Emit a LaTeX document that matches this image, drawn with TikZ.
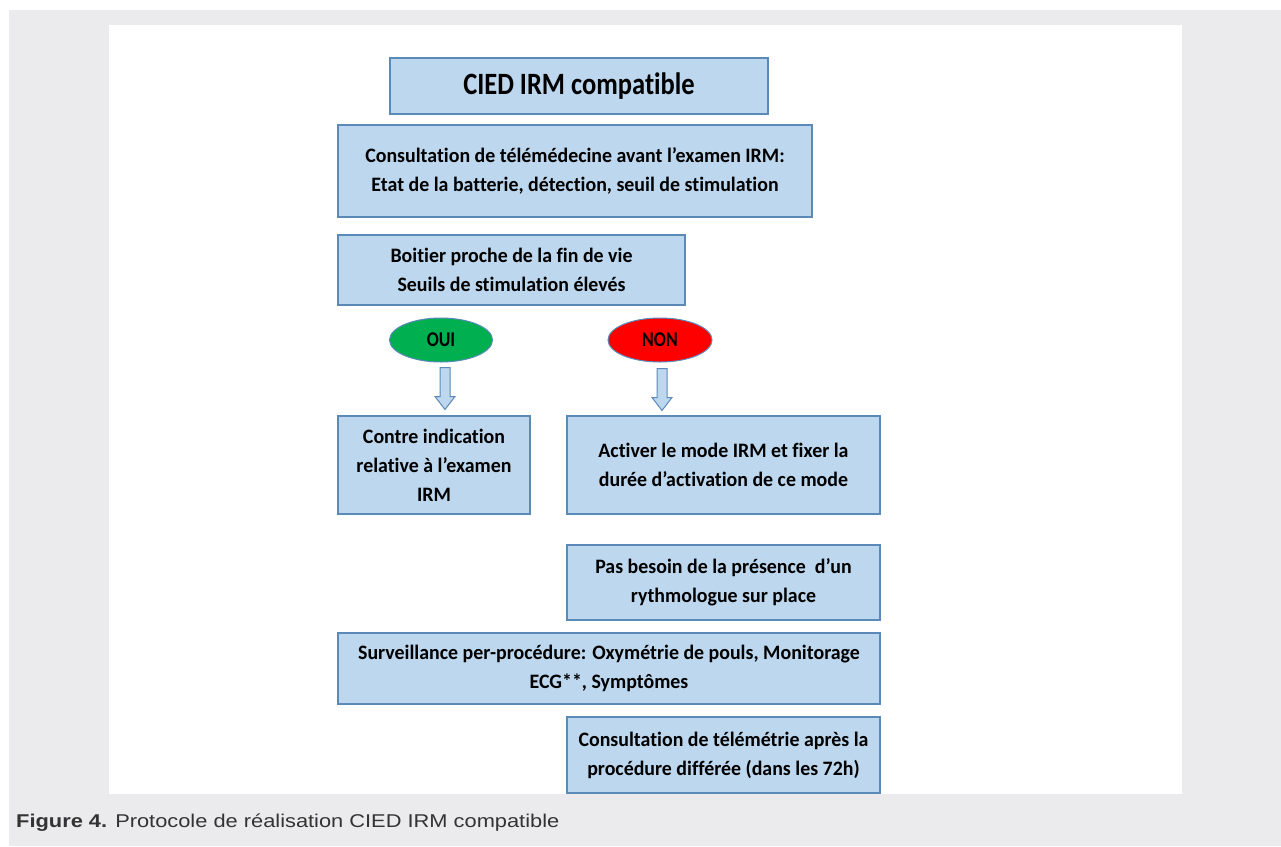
\documentclass[tikz,border=0pt]{standalone}
\usepackage{fontspec}
\setmainfont{Carlito}[Ligatures=NoCommon]
\newfontfamily\boxfont{Carlito}[Ligatures=NoCommon, FakeStretch=0.97]
\newfontfamily\titlefont{Carlito}[Ligatures=NoCommon, FakeStretch=0.855]
\newfontfamily\choicefont{Carlito}[Ligatures=NoCommon, FakeStretch=0.85]
\newfontfamily\capfont{Liberation Sans}[FakeStretch=1.18]
\usetikzlibrary{calc,shapes.geometric}
\definecolor{bgray}{HTML}{EBEBED}
\definecolor{boxfill}{HTML}{BDD7EE}
\definecolor{boxline}{HTML}{5B89B8}
\definecolor{ogreen}{HTML}{00B050}
\definecolor{ored}{HTML}{FF0000}
\definecolor{captext}{HTML}{333333}
\tikzset{
  flowbox/.style={draw=boxline, line width=1.3pt, fill=boxfill, inner sep=0pt,
    align=center, font=\boxfont\fontsize{20.5}{29}\selectfont\bfseries},
  choice/.style={ellipse, draw=boxline, line width=1pt, inner sep=0pt,
    font=\choicefont\fontsize{21}{22}\selectfont\bfseries},
  blockarrow/.style={draw=boxline, line width=1pt, fill=boxfill, line join=miter}
}
\begin{document}
\begin{tikzpicture}[x=1pt,y=-1pt]
\useasboundingbox (0,0) rectangle (1281,846);
\fill[white] (0,0) rectangle (1281,846);
\fill[bgray] (9,10) rectangle (1281,846);
\fill[white] (109,25) rectangle (1182,794);

\node[flowbox, minimum width=378, minimum height=56, font=\titlefont\fontsize{31}{33}\selectfont\bfseries] (cied) at (579,86) {CIED IRM compatible};
\node[flowbox, minimum width=474, minimum height=92] (cons) at (575,171) {Consultation de télémédecine avant l’examen IRM:\\Etat de la batterie, détection, seuil de stimulation};
\node[flowbox, minimum width=347, minimum height=70] (boit) at (511.5,270) {Boitier proche de la fin de vie\\Seuils de stimulation élevés};
\node[choice, fill=ogreen, minimum width=103, minimum height=44] (oui) at (441,340) {OUI};
\node[choice, fill=ored, minimum width=104, minimum height=44] (non) at (660,340) {NON};
\node[flowbox, minimum width=192, minimum height=98] (contre) at (434,465) {Contre indication\\relative à l’examen\\IRM};
\node[flowbox, minimum width=313, minimum height=98] (activ) at (723.5,465) {Activer le mode IRM et fixer la\\durée d’activation de ce mode};
\node[flowbox, minimum width=313, minimum height=75] (pas) at (723.5,582.5) {Pas besoin de la présence\ \ d’un\\rythmologue sur place};
\node[flowbox, minimum width=542, minimum height=71] (surv) at (609,668.5) {Surveillance per-procédure: Oxymétrie de pouls, Monitorage\\ECG**, Symptômes};
\node[flowbox, minimum width=313, minimum height=76] (tele) at (723.5,755) {Consultation de télémétrie après la\\procédure différée (dans les 72h)};

\coordinate (a1) at ($(oui.south)+(4,5)$);
\coordinate (a2) at ($(non.south)+(2,6)$);
\foreach \a in {a1,a2}{
  \draw[blockarrow] ($(\a)+(-5,0)$) -- ++(10,0) -- ++(0,29) -- ++(5,0) -- ++(-10,13) -- ++(-10,-13) -- ++(5,0) -- cycle;
}

\node[anchor=base west, inner sep=0pt, font=\capfont\fontsize{18.5}{20}\selectfont, text=captext] (cap) at (16,827.5) {\textbf{Figure 4.} Protocole de réalisation CIED IRM compatible};
\end{tikzpicture}
\end{document}
